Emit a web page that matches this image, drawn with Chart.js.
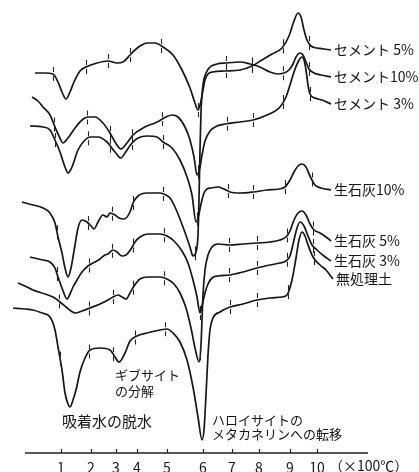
<!DOCTYPE html>
<html lang="ja">
<head>
<meta charset="utf-8">
<title>示差熱分析曲線</title>
<script src="https://cdn.jsdelivr.net/npm/chart.js@4.4.1/dist/chart.umd.min.js"></script>
<style>
  html, body { margin: 0; padding: 0; background: #fff; }
  #wrap { position: relative; width: 419px; height: 472px; }
</style>
</head>
<body>
<div id="wrap"><canvas id="dta"></canvas></div>
<script>
// Abscissa: distance along the recorder paper (mm); temperature marks (×100℃) sit at these distances.
const tickPositions = [18, 33, 45.5, 56, 71, 89, 103.5, 117, 132.5, 146];
const tickLabels = ['1', '2', '3', '4', '5', '6', '7', '8', '9', '10'];
const axisUnit = '（×100℃）';
const axisEnd = 171.5;

// DTA curves, [distance mm, deflection mm]
const cement5 = [[5,190],[10,190],[14,189.5],[16.5,185.5],[18.5,180.5],[20.5,177],[22.5,180.5],[24.5,185.5],[27.5,191],[30.5,193],[36,195],[41.5,196],[46,195],[49,195.5],[52.5,199],[55,201.5],[57.5,203.5],[61,205],[65,205],[69,203],[74,199],[78.5,191.5],[82.5,182.5],[85,175],[86.5,171.5],[88,176],[89,181.5],[90,186.5],[91.5,189.5],[94,190.5],[100,191],[107.5,191.5],[113.5,193.5],[118.5,196.5],[123.5,199.5],[128.5,202.5],[132,208.5],[134.5,216],[136.5,220],[138,218],[139.5,211.5],[141,206.5],[143,203.5],[146,202.5],[149.5,202],[153,201.5]];
const cement10 = [[-1.5,125.5],[4,124],[9,122.5],[12.5,120],[15,115],[16.5,108],[18.5,100],[20,92.5],[21.5,88],[23,92.5],[24,98],[25,104],[26.5,112.5],[28.5,116.5],[31,115.5],[33.5,113],[34.5,112],[36.5,115.5],[39,119],[41,118],[42.5,120],[45,119],[47,117.5],[49.5,117],[52.5,120.5],[54,125],[56.5,128.5],[61,130],[67.5,130],[70.5,129],[72.5,127.5],[75,123],[79,113],[82.5,103],[84,98.5],[85.5,100.5],[86.5,109],[87,126.5],[87.5,151.5],[88,170.5],[89,184],[90.5,190],[92.5,193],[96,194.5],[100.5,195],[107.5,195.5],[112.5,194.5],[117.5,193],[122.5,190.5],[126.5,189.5],[129.5,190],[132,191.5],[134,194.5],[135.5,198],[137.5,200],[139,199],[140.5,195.5],[142,192],[144.5,190],[148,189],[153,188]];
const cement3 = [[3.5,178],[6.5,176],[9,173],[12.5,169],[15,163],[17.5,157.5],[19,155],[21.5,157.5],[25,162.5],[28.5,166.5],[31.5,168],[35,168],[39,165],[42.5,160],[45,155.5],[48,152],[51,155],[54,159],[59,162.5],[66,165.5],[70.5,168],[73.5,169],[76.5,168],[80,163],[82.5,156.5],[84.5,148],[86,139],[87.5,143],[88.5,149],[90,156],[92.5,161],[96,163.5],[100,164.5],[107.5,165.5],[114,166.5],[121,169],[127.5,173],[130.5,178],[132.5,184],[134.5,190.5],[136.5,195.5],[138.5,198],[139.5,196.5],[140.5,191.5],[141.5,184],[142.5,179.5],[145,177.5],[148.5,176.5],[153,174.5]];
const lime10 = [[2.5,163.5],[9,163],[12.5,161.5],[15,156.5],[17.5,150.5],[20,143],[21.5,140],[23.5,143],[26.5,151.5],[30,156.5],[32.5,158],[36.5,158],[41,155.5],[45,150.5],[48,147.5],[50,150],[53.5,155],[56.5,157.5],[61,158.5],[66,158],[69,155.5],[73.5,152.5],[77.5,146.5],[81,138],[83.5,129],[85.5,115.5],[87,119.5],[88,124.5],[89.5,130],[91,132],[93,132.5],[96.5,133],[99.5,132],[102.5,130.5],[107.5,130],[114,130.5],[121,131.5],[127,132],[130,133],[132.5,136.5],[134.5,140.5],[136.5,143.5],[138.5,144.5],[140.5,143],[142.5,138.5],[145,134],[148,132.5],[153,131.5]];
const lime5 = [[-3.5,85],[0,83.5],[4,81.5],[10,79.5],[14,78],[17.5,75.5],[20.5,73],[23,71],[25,70],[28.5,71],[32.5,72.5],[37.5,74.5],[41.5,76.5],[44,78],[46.5,79],[48.5,78],[50.5,77],[52.5,80],[54.5,83.5],[57.5,87],[61.5,88],[67.5,88],[71,87],[74.5,84.5],[77.5,80],[80.5,72.5],[83,62.5],[85,52.5],[87,45.5],[88,54],[88.5,66.5],[89,79],[90,91.5],[91.5,99],[93.5,103],[96.5,104.5],[102.5,104],[109,104.5],[116,105],[122.5,105.5],[127.5,106.5],[130.5,108],[132.5,111],[134.5,116.5],[136.5,120],[138.5,121],[140.5,119],[142.5,114.5],[144.5,111.5],[147.5,110],[150.5,108],[153,106]];
const lime3 = [[2.5,98],[9,96.5],[12.5,95.5],[15,92.5],[16.5,88],[18.5,82.5],[20,78.5],[21,77],[22.5,79.5],[24,83],[26,86.5],[28.5,90.5],[31.5,93.5],[35,95.5],[37.5,97],[40,99],[41.5,99.5],[44,101.5],[46,100.5],[48.5,98.5],[50.5,99],[53,102],[55,105.5],[57.5,108],[61.5,109.5],[67.5,109.5],[71,108.5],[74.5,106],[78.5,101],[81.5,95],[84,86.5],[86,78],[87.5,70],[88.5,73.5],[90,80],[91.5,84.5],[93.5,87.5],[96.5,88.5],[102.5,89],[109,90.5],[116,92.5],[122.5,94],[127.5,95],[130.5,96],[132.5,98.5],[134.5,106.5],[136,112.5],[137.5,115.5],[139.5,113.5],[141.5,108.5],[143.5,104],[146,101.5],[149.5,98.5],[153,96]];
const untreated = [[-6,72.5],[0,72],[4,71.5],[8.5,70],[12.5,68],[15,61.5],[16.5,53],[18.5,41.5],[20,30],[21.5,24.5],[22.5,23],[24,26.5],[25.5,31.5],[27.5,40.5],[30,47.5],[32.5,51.5],[37.5,52.5],[42.5,51.5],[45,48],[47,45.5],[50,50],[52.5,56],[56,58.5],[61,60],[67.5,61.5],[71,62],[74,60],[77.5,55.5],[81,46.5],[84,33],[86.5,18],[88.5,6.5],[89.5,11.5],[90.5,29],[91.5,49],[92.5,61.5],[94,67.5],[97.5,70.5],[102.5,73],[109,74.5],[116,76.5],[122.5,77.5],[128.5,78],[131,79],[133.5,86.5],[135.5,97.5],[137,106.5],[138.5,110.5],[140,108.5],[141.5,104],[144,98],[147.5,94],[150.5,91.5],[154,87]];

// Where each recording was marked at 100℃ steps (distance, mm)
const cement5Marks = [14, 30.5, 41.5, 52.5, 68, 86.5, 100.5, 113.5, 129, 142];
const cement10Marks = [16, 31.5, 43.5, 54, 69, 85, 100.5, 113.5, 129, 142];
const cement3Marks = [14.5, 31, 42.5, 53.5, 68.5, 86.5, 101, 114, 129, 142.5];
const lime10Marks = [15, 31.5, 42.5, 53.5, 69, 86, 101.5, 114, 130, 143.5];
const lime5Marks = [17, 32, 44, 54, 69.5, 87.5, 102, 116, 131, 144];
const lime3Marks = [16, 32, 43.5, 54, 69.5, 87.5, 102, 116, 131, 144];
const untreatedMarks = [17.5, 32, 44, 55, 70, 102.5, 116, 131.5, 144.5];

const seriesNames = ['セメント 5%', 'セメント10%', 'セメント 3%', '生石灰10%', '生石灰 5%', '生石灰 3%', '無処理土'];
const seriesPoints = [cement5, cement10, cement3, lime10, lime5, lime3, untreated];
const seriesMarks = [cement5Marks, cement10Marks, cement3Marks, lime10Marks, lime5Marks, lime3Marks, untreatedMarks];

// Explanatory notes on the reactions
const noteLines = [
  { text: 'ギブサイト', x: 45, y: 39, size: 13 },
  { text: 'の分解', x: 45, y: 31, size: 13 },
  { text: '吸着水の脱水', x: 18.5, y: 16, size: 15 },
  { text: 'ハロイサイトの', x: 93.5, y: 16.5, size: 13 },
  { text: 'メタカネリンへの転移', x: 93.5, y: 9.5, size: 13 }
];

const FONT = '"Noto Sans CJK JP", "Noto Sans", sans-serif';
const INK = '#161616';

function valueAt(points, xv) {
  for (let i = 1; i < points.length; i++) {
    const a = points[i - 1], b = points[i];
    if (xv <= b[0]) {
      const t = (xv - a[0]) / (b[0] - a[0]);
      return a[1] + t * (b[1] - a[1]);
    }
  }
  return points[points.length - 1][1];
}

const dtaDecor = {
  id: 'dtaDecor',
  afterDatasetsDraw(chart) {
    const { ctx, scales: { x, y } } = chart;
    ctx.save();

    // 100℃ marks crossing each curve
    ctx.strokeStyle = '#222';
    ctx.lineWidth = 1.1;
    seriesPoints.forEach((pts, i) => {
      seriesMarks[i].forEach(m => {
        const px = Math.round(x.getPixelForValue(m)) + 0.5;
        const py = y.getPixelForValue(valueAt(pts, m));
        ctx.beginPath();
        ctx.moveTo(px, py - 7); ctx.lineTo(px, py - 2);
        ctx.moveTo(px, py + 2); ctx.lineTo(px, py + 7);
        ctx.stroke();
      });
    });

    // series names at the ends of the curves
    ctx.fillStyle = INK;
    ctx.textAlign = 'left';
    ctx.textBaseline = 'middle';
    ctx.font = '14px ' + FONT;
    seriesPoints.forEach((pts, i) => {
      const last = pts[pts.length - 1];
      ctx.fillText(seriesNames[i], x.getPixelForValue(last[0]) + 3, y.getPixelForValue(last[1]));
    });

    // notes
    noteLines.forEach(n => {
      ctx.font = n.size + 'px ' + FONT;
      ctx.fillText(n.text, x.getPixelForValue(n.x), y.getPixelForValue(n.y));
    });

    // temperature axis line with inward ticks
    const ay = x.top;
    ctx.strokeStyle = '#222';
    ctx.lineWidth = 1.5;
    ctx.beginPath();
    ctx.moveTo(x.getPixelForValue(0), ay);
    ctx.lineTo(x.getPixelForValue(axisEnd), ay);
    ctx.stroke();
    ctx.lineWidth = 1.2;
    tickPositions.forEach(v => {
      const px = Math.round(x.getPixelForValue(v)) + 0.5;
      ctx.beginPath();
      ctx.moveTo(px, ay);
      ctx.lineTo(px, ay - 4);
      ctx.stroke();
    });

    // unit after the last temperature label
    ctx.font = '14px ' + FONT;
    ctx.textBaseline = 'middle';
    ctx.fillText(axisUnit, x.getPixelForValue(tickPositions[tickPositions.length - 1]) + 12, ay + 13);

    ctx.restore();
  }
};

new Chart(document.getElementById('dta'), {
  type: 'line',
  data: {
    datasets: seriesPoints.map((pts, i) => ({
      label: seriesNames[i],
      data: pts.map(p => ({ x: p[0], y: p[1] })),
      borderColor: INK,
      borderWidth: 1.7,
      pointRadius: 0,
      fill: false,
      cubicInterpolationMode: 'monotone'
    }))
  },
  options: {
    responsive: true,
    maintainAspectRatio: false,
    animation: false,
    devicePixelRatio: 1,
    layout: { padding: { left: 11, right: 51, top: 0, bottom: 0 } },
    plugins: { legend: { display: false }, tooltip: { enabled: false } },
    scales: {
      x: {
        type: 'linear',
        min: -7,
        max: axisEnd,
        grid: { display: false, drawTicks: false },
        border: { display: false },
        afterBuildTicks: s => { s.ticks = tickPositions.map(v => ({ value: v })); },
        afterFit: s => { s.height = 19; },
        ticks: {
          autoSkip: false,
          maxRotation: 0,
          padding: 6,
          color: INK,
          font: { family: FONT, size: 14 },
          callback: (v, i) => tickLabels[i]
        }
      },
      y: {
        type: 'linear',
        display: false,
        min: 0,
        max: 226.5
      }
    }
  },
  plugins: [dtaDecor]
});
</script>
</body>
</html>
